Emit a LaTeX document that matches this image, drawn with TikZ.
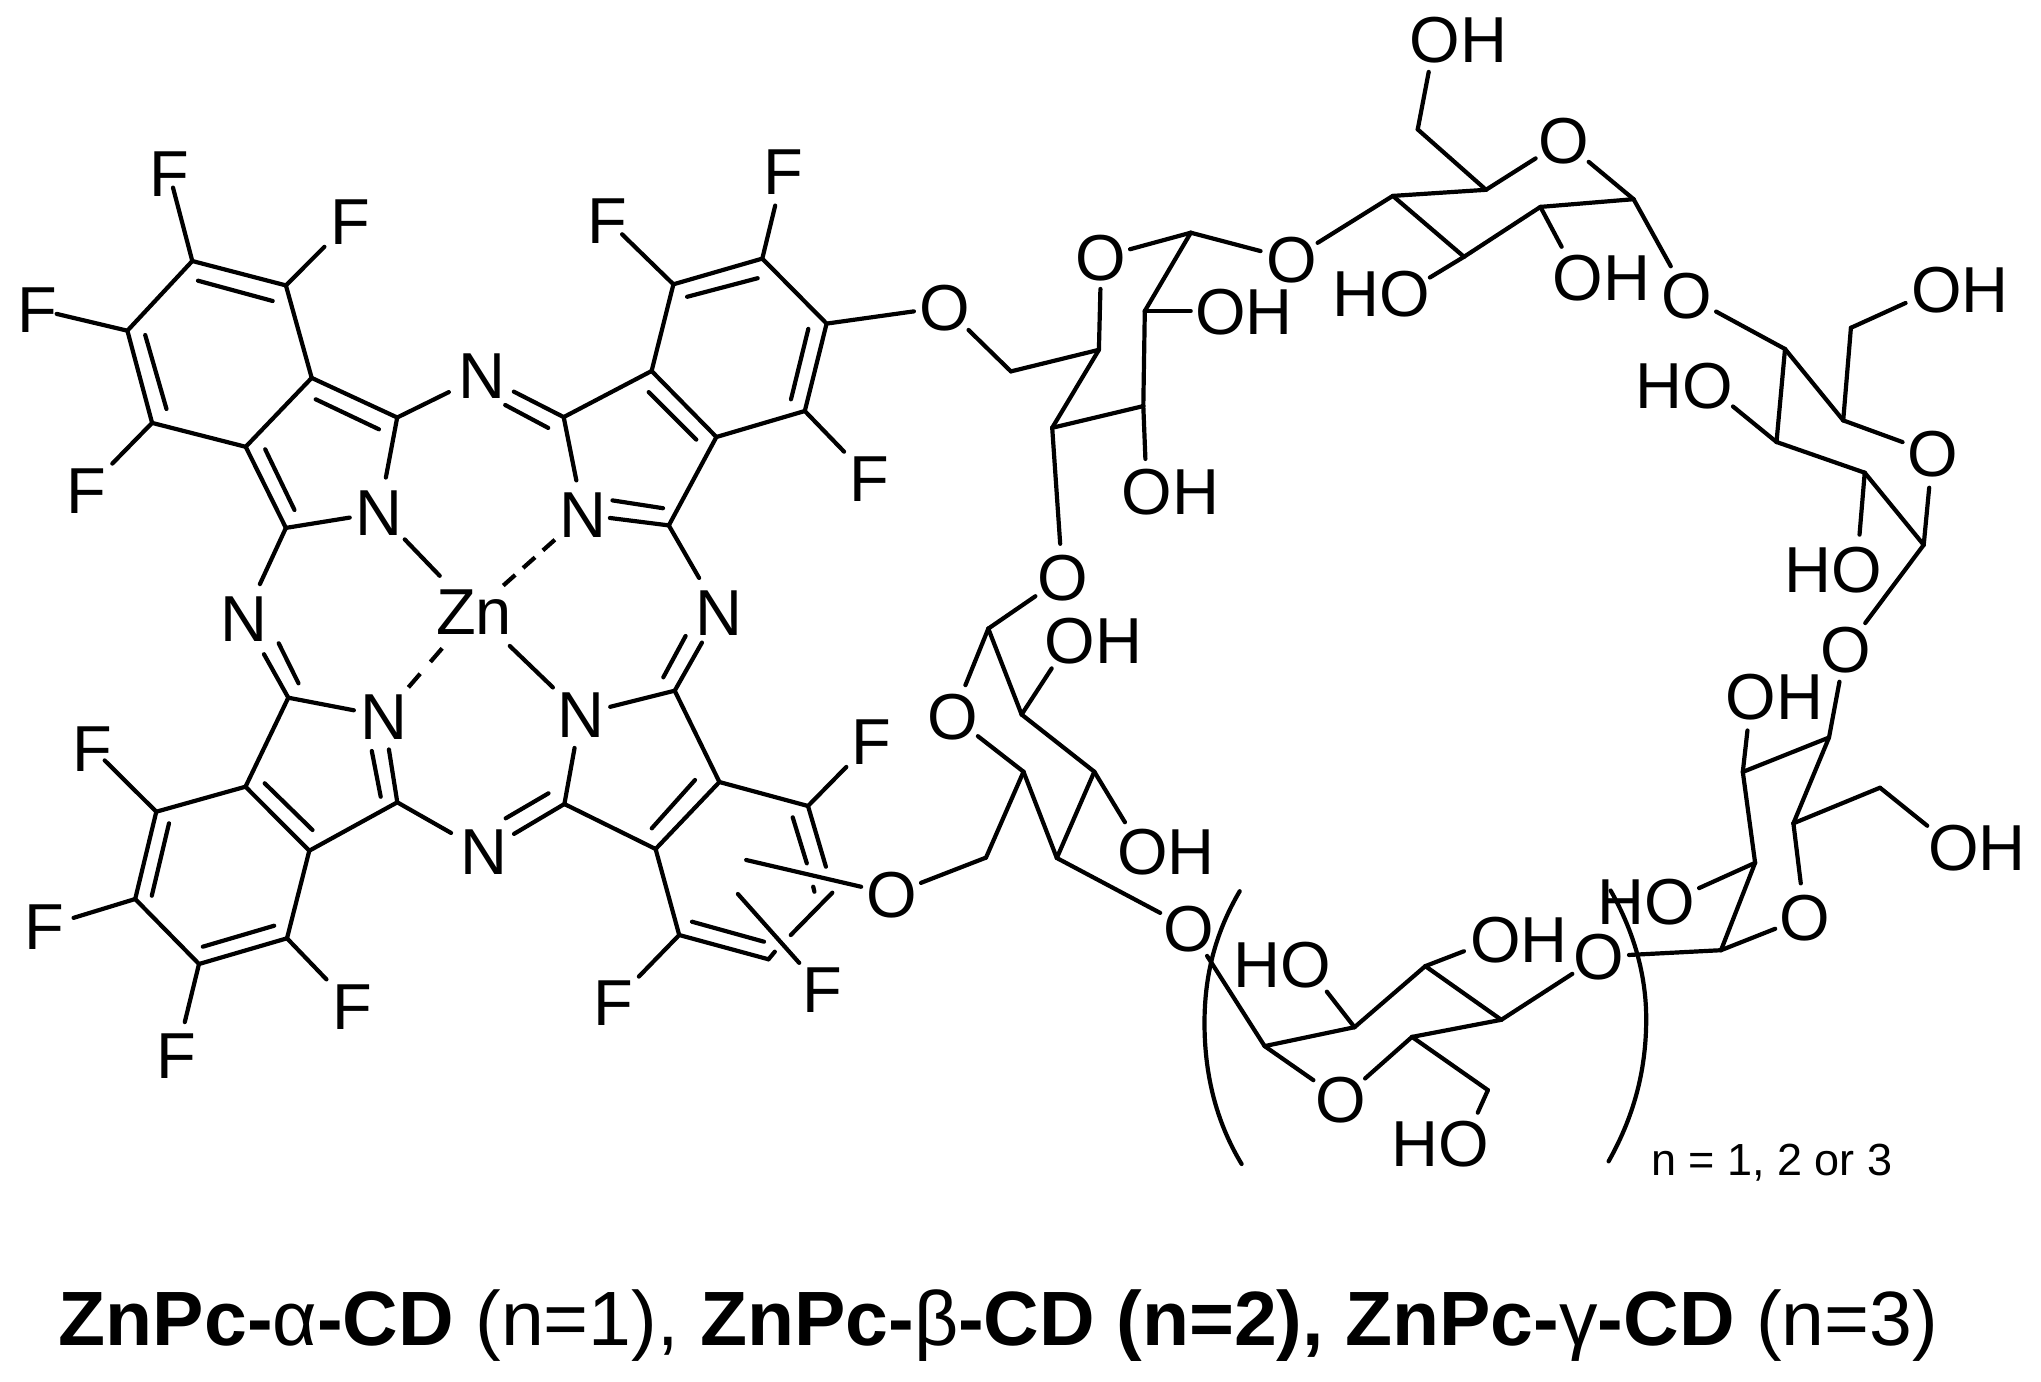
\documentclass[tikz,border=0pt]{standalone}
\usepackage{fontspec}
\setmainfont{Liberation Sans}
\tikzset{
  x=1pt,y=-1pt,
  bond/.style={line width=4.2pt,line cap=round,line join=round,black},
  dashbond/.style={line width=4.2pt,line cap=butt,black},
  atom/.style={circle,inner sep=0pt,outer sep=0pt,text height=46pt,text depth=0pt,
    font=\fontsize{65}{65}\selectfont},
  paren/.style={line width=4.2pt,line cap=round,black}
}
% atom label: centred on the letter that carries the bond, the rest overflows
\newcommand{\lab}[1]{\makebox[0pt]{#1}}
\newcommand{\lOH}{\makebox[0pt]{O\rlap{H}}}
\newcommand{\lHO}{\makebox[0pt]{\llap{H}O}}
% bond from a to b, cut back by sa and sb
\newcommand{\bd}[4]{\draw[bond,shorten <=#3pt,shorten >=#4pt] (#1) -- (#2);}
\begin{document}
\begin{tikzpicture}
\useasboundingbox (0,0) rectangle (2041,1381);
\fill[white] (0,0) rectangle (2041,1381);
% ---------- carbon positions: phthalocyanine
\foreach \n/\x/\y in {a1/192.3/261,a2/285.9/285.4,a3/311.7/377.9,a4/245.7/446.8,a5/152.1/422.9,a6/127.4/330.7,
 a7/397.2/417.5,a8/285.9/527.9,a9/563.7/417.1,a10/668.8/525.4,a11/651.6/371,a12/716.4/437,
 b1/673.4/284.3,b2/762.3/258.6,b3/826.6/323.6,b4/804.8/411,
 c1/288.3/697.7,c2/245.5/786.7,c3/309.3/850.7,c4/397.3/802.3,c5/564.4/804,c6/674.7/690.7,c7/719.4/782,c8/655.6/849,
 d1/156.3/811.7,d2/135.2/899,d3/199/964,d4/287/938.3,
 e1/808/806,e3/768.5/959.3,e4/679.2/935,
 e1x/825.9/866.7,e2x/832.3/892.7,ex1/790.8/935,ex2/774.8/951.7,
 ep1/813.2/886.7,ep2/814.4/891.7,
 linkend/746.2/860,fend/737.9/894,
 % inner lines of double bonds
 i1a/198/280.7,i1b/272.7/301,i2a/145.2/335,i2b/166.5/409,i3a/315.7/399.3,i3b/378.9/429.3,i4a/265.2/449.3,i4b/294.5/510,
 i5a/505.2/405,i5b/548.2/427.9,i6a/612.5/500.4,i6b/663/508.2,i7a/687.1/296.8,i7b/757.7/278.2,i8a/808.3/328.9,i8b/791/399.3,
 i9a/648.7/392.1,i9b/696.3/439.6,i10a/278.7/643.3,i10b/298.5/683.3,i11a/371.8/751,i11b/380.7/796.7,
 i12a/505.7/818.3,i12b/548.5/793.3,i13a/685.6/636,i13b/663.3/677.3,i14a/264.7/783.3,i14b/312.5/830,
 i15a/169/823.3,i15b/151.8/895.7,i16a/202.8/946.7,i16b/274.2/925.7,i17a/695/780,i17b/651.8/828.3,
 i18a/692/921.7,i18b/764/941.7,i19a/792.7/817.3,i19b/806.8/863.3,
 % sugar carbons
 g1/1010.9/371.4,g2/1098.9/349.8,g3/1052.2/427.8,g4/1143.3/406.1,g5/1144.8/311,g6/1190.8/232.7,
 h1/1392.8/195.9,h2/1417.7/129.4,q1/1633.6/199.2,q2/1540.4/206.9,q3/1464/256.8,q4/1486/189.8,
 p1/1923.7/544.9,p2/1843.2/420.4,p3/1785/349,p4/1776.5/442,p5/1864.7/472.7,p6/1850.9/327.8,
 n2/1721/950.2,n3/1755.1/862.8,n4/1742.8/771.9,n5/1829/737.5,n6/1793.4/823.3,n7/1880/787.7,
 k1/988.3/628.6,k2/1021.6/714.5,k3/1094.3/771.7,k4/1056.8/858,k5/1023.5/771.7,k6/986/857.6,
 m1/1211/962,m2/1264.6/1046.1,m3/1354.5/1027.2,m4/1425.3/966.1,m5/1412/1036.9,m6/1501.3/1019.8,m7/1487.9/1090.1}
 {\coordinate (\n) at (\x,\y);}
% ---------- labels
\foreach \n/\x/\y/\t in {f1/169.3/173.6/F,f2/350.2/221/F,f3/37.3/309.3/F,f4/86.1/490.4/F,f5/607.4/220/F,f6/783.6/171/F,f7/869.7/478.2/F,
 f8/92.5/748.3/F,f9/44.6/926.7/F,f10/352/1006/F,f11/176.7/1055/F,f12/613.5/1002.7/F,f13/822.7/989.3/F,f14/871.8/741/F,
 nt/482.4/375.6/N,n1a/379.2/512.8/N,n2a/583.2/514.6/N,nl/244/618.5/N,nr/719/612.5/N,n3a/383.6/716/N,n4a/580.7/714.2/N,nb/484/851.7/N,
 zn/474/611.5/Zn,
 ol/945/307/O,or1/1101.2/257.1/O,ob1/1291.4/259.2/O,ob2/1062.5/577.6/O,or2/952.7/716.6/O,ol2/892.2/894/O,ob3/1189.2/928.3/O,
 or3/1341.2/1099.6/O,ob4/1599.1/956.5/O,or4/1804.9/917/O,ob5/1845.5/649.4/O,or5/1932.5/453/O,ob6/1687.2/295.9/O,or6/1563.4/140.8/O}
 {\node[atom] (\n) at (\x,\y) {\lab{\t}};}
\foreach \n/\x/\y in {oh1/1220.6/311,oh2/1146.7/491.8,oh3/1070.2/640,oh4/1142.5/851.2,oh5/1495.6/939,oh6/1751.2/696.8,oh7/1953.6/847,
 oh8/1936.4/289,oh9/1578/277.6,oh10/1434.9/39.6}
 {\node[atom] (\n) at (\x,\y) {\lOH};}
\foreach \n/\x/\y in {ho1/1404.3/293,ho2/1306/964.9,ho3/1463.8/1143.5,ho4/1670/901.2,ho5/1856.6/569.4,ho6/1707.5/385.7}
 {\node[atom] (\n) at (\x,\y) {\lHO};}
% ---------- top left isoindole
\bd{a1}{a2}{0}{0}\bd{a2}{a3}{0}{0}\bd{a3}{a4}{0}{0}\bd{a4}{a5}{0}{0}\bd{a5}{a6}{0}{0}\bd{a6}{a1}{0}{0}
\bd{a3}{a7}{0}{0}\bd{a7}{n1a}{0}{13}\bd{a8}{n1a}{0}{7}\bd{a4}{a8}{0}{0}
\draw[bond] (i1a)--(i1b);\draw[bond] (i2a)--(i2b);\draw[bond] (i3a)--(i3b);\draw[bond] (i4a)--(i4b);
\bd{a1}{f1}{0}{-8.4}\bd{a2}{f2}{0}{13.6}\bd{a6}{f3}{0}{-3}\bd{a5}{f4}{0}{14.6}
% ---------- top right isoindole
\bd{a9}{a11}{0}{0}\bd{a11}{a12}{0}{0}\bd{a12}{a10}{0}{0}\bd{a9}{n2a}{0}{12}\bd{a10}{n2a}{0}{4}
\bd{a11}{b1}{0}{0}\bd{b1}{b2}{0}{0}\bd{b2}{b3}{0}{0}\bd{b3}{b4}{0}{0}\bd{b4}{a12}{0}{0}
\draw[bond] (i6a)--(i6b);\draw[bond] (i7a)--(i7b);\draw[bond] (i8a)--(i8b);\draw[bond] (i9a)--(i9b);
\bd{b1}{f5}{0}{-2.4}\bd{b2}{f6}{0}{12.7}\bd{b4}{f7}{0}{14}
% ---------- bridges
\bd{a7}{nt}{0}{14.5}\bd{a9}{nt}{0}{12.4}\draw[bond] (i5a)--(i5b);
\bd{a8}{nl}{0}{15}\bd{c1}{nl}{0}{18}\draw[bond] (i10a)--(i10b);
\bd{a10}{nr}{0}{17}\bd{c6}{nr}{0}{11.7}\draw[bond] (i13a)--(i13b);
\bd{c4}{nb}{0}{15}\bd{c5}{nb}{0}{12}\draw[bond] (i12a)--(i12b);
% ---------- zinc
\bd{n1a}{zn}{14}{26.6}\bd{n4a}{zn}{15.7}{26.8}
\draw[dashbond,dash pattern=on 16pt off 10.5pt,shorten <=15pt,shorten >=15.5pt] (n2a) -- (zn);
\draw[dashbond,dash pattern=on 18pt off 15.6pt,shorten <=15pt,shorten >=25.3pt] (n3a) -- (zn);
% ---------- bottom left isoindole
\bd{c1}{c2}{0}{0}\bd{c2}{c3}{0}{0}\bd{c3}{c4}{0}{0}\bd{c1}{n3a}{0}{7.4}\bd{c4}{n3a}{0}{11}
\bd{c2}{d1}{0}{0}\bd{d1}{d2}{0}{0}\bd{d2}{d3}{0}{0}\bd{d3}{d4}{0}{0}\bd{d4}{c3}{0}{0}
\draw[bond] (i11a)--(i11b);\draw[bond] (i14a)--(i14b);\draw[bond] (i15a)--(i15b);\draw[bond] (i16a)--(i16b);
\bd{d1}{f8}{0}{-5.7}\bd{d2}{f9}{0}{7.4}\bd{d4}{f10}{0}{14}\bd{d3}{f11}{0}{11}
% ---------- bottom right isoindole
\bd{c5}{c8}{0}{0}\bd{c8}{c7}{0}{0}\bd{c7}{c6}{0}{0}\bd{c6}{n4a}{0}{7.5}\bd{c5}{n4a}{0}{11.4}
\bd{c7}{e1}{0}{0}\bd{c8}{e4}{0}{0}\bd{e4}{e3}{0}{0}
\draw[bond] (i17a)--(i17b);\draw[bond] (i18a)--(i18b);\draw[bond] (i19a)--(i19b);
\draw[bond] (e1)--(e1x);\draw[bond] (ep1)--(ep2);\draw[bond] (e2x)--(ex1);\draw[bond] (ex2)--(e3);
\bd{e1}{f14}{0}{13.5}\bd{e4}{f12}{0}{13.5}\bd{fend}{f13}{0}{12.5}
% ---------- linkers to the cyclodextrin
\bd{b3}{ol}{0}{8.5}\bd{ol}{g1}{10}{0}\bd{g1}{g2}{0}{0}
\bd{linkend}{ol2}{0}{9}\bd{ol2}{k6}{8}{0}\bd{k6}{k5}{0}{0}
% ---------- glucose 1
\bd{g2}{g3}{0}{0}\bd{g3}{g4}{0}{0}\bd{g4}{g5}{0}{0}\bd{g5}{g6}{0}{0}\bd{g6}{or1}{0}{7}\bd{or1}{g2}{9}{0}
\bd{g5}{oh1}{0}{7}\bd{g4}{oh2}{0}{10}\bd{g3}{ob2}{0}{11}\bd{g6}{ob1}{0}{9}
% ---------- glucose 2
\bd{ob1}{h1}{8}{0}\bd{h1}{q4}{0}{0}\bd{q4}{or6}{0}{10}\bd{or6}{q1}{10}{0}\bd{q1}{q2}{0}{0}\bd{q2}{q3}{0}{0}\bd{q3}{h1}{0}{0}
\bd{q4}{h2}{0}{0}\bd{h2}{oh10}{0}{10}\bd{q2}{oh9}{0}{12}\bd{q3}{ho1}{0}{7}\bd{q1}{ob6}{0}{11}
% ---------- glucose 3
\bd{ob6}{p3}{10}{0}\bd{p3}{p2}{0}{0}\bd{p2}{or5}{0}{9}\bd{or5}{p1}{12}{0}\bd{p1}{p5}{0}{0}\bd{p5}{p4}{0}{0}\bd{p4}{p3}{0}{0}
\bd{p2}{p6}{0}{0}\bd{p6}{oh8}{0}{11}\bd{p4}{ho6}{0}{10}\bd{p5}{ho5}{0}{12}\bd{p1}{ob5}{0}{10}
% ---------- glucose 4
\bd{ob5}{n5}{10}{0}\bd{n5}{n4}{0}{0}\bd{n4}{n3}{0}{0}\bd{n3}{n2}{0}{0}\bd{n2}{or4}{0}{9}\bd{or4}{n6}{11}{0}\bd{n6}{n5}{0}{0}
\bd{n6}{n7}{0}{0}\bd{n7}{oh7}{0}{11}\bd{n4}{oh6}{0}{11}\bd{n3}{ho4}{0}{9}\bd{n2}{ob4}{0}{7}
% ---------- repeating glucose
\bd{ob4}{m6}{9}{0}\bd{m6}{m4}{0}{0}\bd{m4}{m3}{0}{0}\bd{m3}{m2}{0}{0}\bd{m2}{or3}{0}{11}\bd{or3}{m5}{9}{0}\bd{m5}{m6}{0}{0}
\bd{m4}{oh5}{0}{11}\bd{m3}{ho2}{0}{11}\bd{m5}{m7}{0}{0}\bd{m7}{ho3}{0}{11}\bd{m2}{m1}{0}{0}\bd{m1}{ob3}{0}{10}
% ---------- glucose 6
\bd{ob3}{k4}{10}{0}\bd{k4}{k3}{0}{0}\bd{k3}{k2}{0}{0}\bd{k2}{k1}{0}{0}\bd{k1}{or2}{0}{11}\bd{or2}{k5}{9}{0}\bd{k5}{k4}{0}{0}
\bd{k2}{oh3}{0}{11}\bd{k3}{oh4}{0}{11}\bd{k1}{ob2}{0}{10}
% ---------- brackets
\coordinate (pl1) at (1239.7,891.2);\coordinate (pl2) at (1204.5,1023);\coordinate (pl3) at (1241.6,1164);
\coordinate (pr1) at (1610.6,890.5);\coordinate (pr2) at (1646.2,1019);\coordinate (pr3) at (1608.6,1161.3);
\draw[paren] (pl1) .. controls (1214,935) and (1204.5,978) .. (pl2) .. controls (1204.5,1072) and (1215,1120) .. (pl3);
\draw[paren] (pr1) .. controls (1634,932) and (1646.2,975) .. (pr2) .. controls (1646.2,1072) and (1633,1118) .. (pr3);
\node[inner sep=0pt,anchor=base west,font=\fontsize{45}{45}\selectfont] (ntext) at (1650.8,1175) {n = 1, 2 or 3};
% ---------- title
\node[inner sep=0pt,anchor=base west,font=\fontsize{77}{77}\selectfont] (title) at (58.6,1345)
 {{\bfseries ZnPc-}α{\bfseries -CD} (n=1), {\bfseries ZnPc-}β{\bfseries -CD (n=2), ZnPc-}γ{\bfseries -CD} (n=3)};
\end{tikzpicture}
\end{document}
